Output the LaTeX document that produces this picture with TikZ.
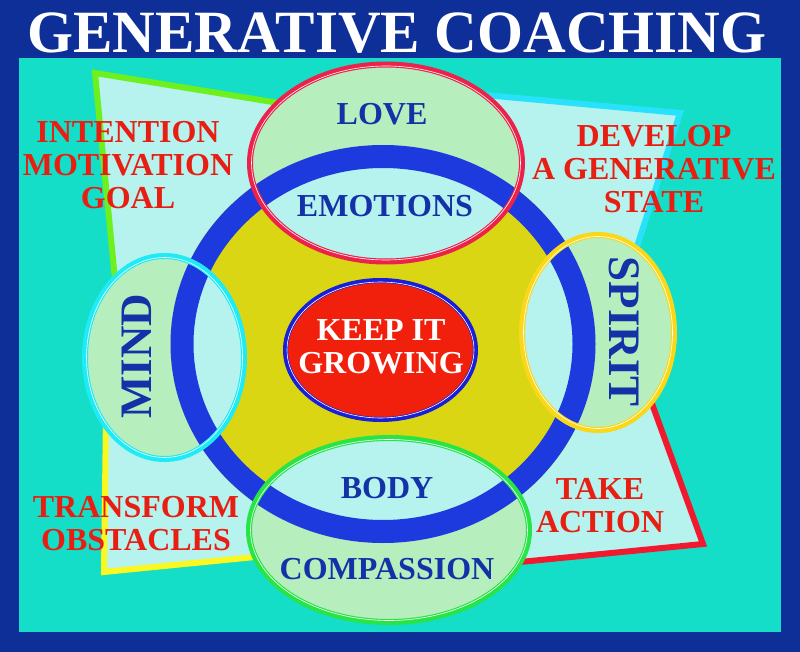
\documentclass[tikz,border=0pt]{standalone}
\usepackage{fontspec}
\setmainfont{Liberation Serif}
\definecolor{bgblue}{RGB}{14,46,152}
\definecolor{teal}{RGB}{20,222,200}
\definecolor{lcyan}{RGB}{182,242,238}
\definecolor{lgreen}{RGB}{182,238,190}
\definecolor{diskyel}{RGB}{218,214,20}
\definecolor{ringblue}{RGB}{28,58,222}
\definecolor{txtred}{RGB}{232,30,18}
\definecolor{txtblue}{RGB}{20,50,168}
\definecolor{edgegreen}{RGB}{110,240,30}
\definecolor{edgecyan}{RGB}{40,225,250}
\definecolor{edgered}{RGB}{240,25,45}
\definecolor{edgeyel}{RGB}{250,248,30}
\definecolor{ellred}{RGB}{235,35,75}
\definecolor{ellcyan}{RGB}{30,235,245}
\definecolor{ellyel}{RGB}{250,215,25}
\definecolor{ellgreen}{RGB}{40,228,70}
\definecolor{centblue}{RGB}{25,30,215}
\definecolor{centred}{RGB}{240,32,12}
\begin{document}
\begin{tikzpicture}[x=1pt,y=-1pt,
  quadedge/.style={line width=6pt, line join=miter},
  redtxt/.style={font=\fontsize{32}{33}\selectfont\bfseries, text=txtred, align=center, inner sep=0pt},
  bluetxt/.style={font=\fontsize{32}{33}\selectfont\bfseries, text=txtblue, align=center, inner sep=0pt},
  bigtxt/.style={font=\fontsize{45}{45}\selectfont\bfseries, text=txtblue, inner sep=0pt},
  whitetxt/.style={font=\fontsize{32}{33}\selectfont\bfseries, text=white, align=center, inner sep=0pt}]
\useasboundingbox (0,0) rectangle (800,652);
% backgrounds
\fill[bgblue] (0,0) rectangle (800,652);
\fill[teal] (19,58) rectangle (781,632);
% light quadrilateral area
\fill[lcyan] (95,73) -- (280,103) -- (490,95) -- (680,113) -- (636,248) -- (651,402)
  -- (703,544) -- (518,562) -- (255,557) -- (104,572) -- (106,425) -- (116,280) -- cycle;
% coloured edges
\draw[quadedge, edgegreen] (116,290) -- (95,73) -- (285,104);
\draw[quadedge, edgecyan] (485,95) -- (680,113) -- (632,262);
\draw[quadedge, edgered] (647,390) -- (703,544) -- (510,563);
\draw[quadedge, edgeyel] (265,556) -- (104,572) -- (106,415);
% ellipse fills (outside disk)
\foreach \cx/\cy/\rx/\ry in {386/163/136/98.5, 164.5/357.5/79.5/101.5, 598/332.5/76/97.5, 389/530/140/92}
  {\fill[lgreen] (\cx,\cy) ellipse [x radius=\rx, y radius=\ry];}
% disk
\fill[diskyel] (383,344) ellipse [x radius=212.5, y radius=199];
\begin{scope}
  \clip (383,344) ellipse [x radius=212.5, y radius=199];
  \foreach \cx/\cy/\rx/\ry in {386/163/136/98.5, 164.5/357.5/79.5/101.5, 598/332.5/76/97.5, 389/530/140/92}
    {\fill[lcyan] (\cx,\cy) ellipse [x radius=\rx, y radius=\ry];}
\end{scope}
% ring
\draw[ringblue, line width=23pt] (383,344) ellipse [x radius=201, y radius=187.5];
% ellipse outlines
\foreach \cx/\cy/\rx/\ry/\col in {386/163/136/98.5/ellred, 164.5/357.5/79.5/101.5/ellcyan, 598/332.5/76/97.5/ellyel, 389/530/140/92/ellgreen}
  {\draw[\col, line width=6pt] (\cx,\cy) ellipse [x radius=\rx, y radius=\ry];
   \draw[white, line width=0.6pt] (\cx,\cy) ellipse [x radius=\rx-1.5, y radius=\ry-1.5];}
% centre
\fill[centred] (380.5,350) ellipse [x radius=95, y radius=69.5];
\draw[centblue, line width=5pt] (380.5,350) ellipse [x radius=95, y radius=69.5];
\draw[white, line width=0.6pt] (380.5,350) ellipse [x radius=93.5, y radius=68];
% texts
\node[font=\fontsize{60}{60}\selectfont\bfseries, text=white, inner sep=0pt, xscale=0.985] (title) at (397,33) {GENERATIVE COACHING};
\node[redtxt] (intent) at (128,165) {INTENTION\\MOTIVATION\\GOAL};
\node[redtxt] (develop) at (654,169) {DEVELOP\\A GENERATIVE\\STATE};
\node[redtxt] (transform) at (136,524) {TRANSFORM\\OBSTACLES};
\node[redtxt] (take) at (600,505.5) {TAKE\\ACTION};
\node[bluetxt] (love) at (382,114) {LOVE};
\node[bluetxt] (emotions) at (385,206) {EMOTIONS};
\node[bluetxt] (body) at (387,488) {BODY};
\node[bluetxt] (compassion) at (387,569) {COMPASSION};
\node[bigtxt, rotate=90] (mind) at (137,356) {MIND};
\node[bigtxt, rotate=-90] (spirit) at (624,332) {SPIRIT};
\node[whitetxt] (keep) at (381,346.5) {KEEP IT\\GROWING};
\end{tikzpicture}
\end{document}
